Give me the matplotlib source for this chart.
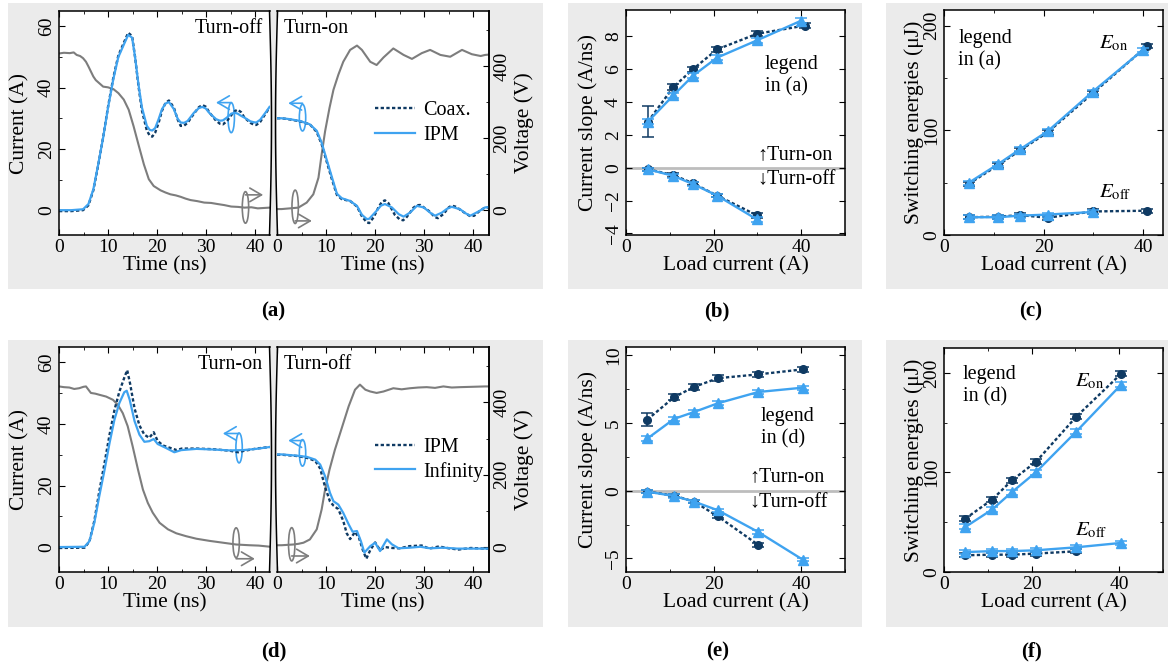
import numpy as np
import matplotlib
matplotlib.use("Agg")
import matplotlib.pyplot as plt
from matplotlib.patches import Ellipse, Rectangle
from matplotlib.lines import Line2D
from matplotlib.ticker import MultipleLocator

plt.rcParams["font.family"] = ["Liberation Serif", "DejaVu Serif"]
plt.rcParams["mathtext.fontset"] = "stix"
plt.rcParams["font.size"] = 14
plt.rcParams["axes.linewidth"] = 1.1

DARK = "#0f3a63"
LIGHT = "#3fa3f0"
GRAY = "#7d7d7d"
PANEL = "#ebebeb"

W, H = 1172, 668

# ---------------- (a) turn-off / turn-on waveforms, Coax. vs IPM ----------------
a_off_t_coax = [0, 2.5, 4.9, 6.0, 7.0, 8.0, 9.0, 10.0, 11.1, 12.1, 13.2, 14.1, 14.9, 15.5, 16.2, 16.9,
                17.9, 18.5, 19.0, 19.6, 20.3, 21.0, 21.7, 22.4, 23.4, 24.2, 24.8, 25.5, 26.2, 27.5,
                28.5, 29.2, 29.9, 30.6, 32.0, 32.8, 33.4, 34.2, 35.1, 35.8, 36.4, 37.1, 37.8, 39.0,
                39.7, 40.2, 41.0, 41.6, 42.3, 42.9]
a_off_i_coax = [-0.3, -0.3, 0.0, 1.6, 6.5, 14.8, 23.8, 33.8, 43.5, 50.5, 54.6, 57.9, 56.8, 50.0, 40.5,
                32.5, 26.0, 24.3, 24.0, 25.3, 28.5, 32.5, 35.0, 35.8, 33.5, 29.5, 27.5, 27.6, 28.5,
                31.5, 33.6, 34.3, 33.8, 32.0, 29.2, 28.2, 28.0, 29.0, 31.0, 32.3, 32.8, 32.0, 30.2,
                28.5, 27.9, 27.8, 28.8, 30.3, 32.0, 33.5]
a_off_t_ipm = [0, 2.5, 4.9, 6.0, 7.0, 8.0, 9.0, 10.0, 11.1, 12.1, 13.2, 14.1, 14.9, 15.5, 16.2, 16.9,
               17.9, 18.5, 19.0, 19.6, 20.3, 21.0, 21.7, 22.4, 23.4, 24.2, 24.8, 25.5, 26.2, 27.5,
               28.5, 29.2, 29.9, 30.6, 32.0, 32.8, 33.4, 34.2, 35.1, 35.8, 36.4, 37.1, 37.8, 39.0,
               39.7, 40.2, 41.0, 41.6, 42.3, 42.9]
a_off_i_ipm = [0.0, 0.0, 0.3, 2.0, 6.8, 15.0, 23.7, 33.5, 43.0, 50.0, 54.0, 57.2, 56.3, 50.0, 41.0,
               33.5, 27.5, 26.2, 26.0, 26.8, 29.7, 33.0, 34.8, 35.3, 33.0, 29.8, 28.6, 28.5, 29.1,
               31.8, 33.3, 33.7, 33.2, 31.8, 29.7, 29.2, 29.3, 30.2, 31.5, 31.8, 31.5, 30.8, 30.2,
               29.0, 28.7, 28.6, 29.5, 30.8, 32.3, 33.7]
a_off_t_v = [0, 1.0, 2.2, 3.0, 3.6, 4.3, 4.9, 5.5, 6.0, 6.5, 7.0, 7.5, 8.0, 9.0, 10.0, 11.1, 12.1, 13.2,
             14.2, 15.2, 16.2, 17.3, 18.3, 19.3, 20.7, 21.7, 22.7, 23.8, 24.8, 25.8, 26.8, 28.2,
             29.6, 31.0, 32.3, 33.7, 35.1, 36.5, 37.8, 39.2, 40.5, 41.7, 42.9]
a_off_v = [435, 437, 436, 438, 431, 428, 422, 412, 399, 385, 371, 361, 355, 343, 341, 336, 325, 307,
           279, 233, 182, 127, 86, 67, 55, 49, 44, 41, 37, 32, 28, 25, 21, 20, 17, 14, 10, 9, 7, 8,
           5, 6, 7]

a_on_t_coax = [0, 0.95, 2.65, 4.7, 6.7, 8.1, 9.1, 10.1, 11.2, 12.2, 13.2, 14.9, 16.3, 17.3, 18.3, 18.8,
               19.7, 20.7, 21.4, 22.0, 22.7, 24.0, 25.0, 25.7, 26.3, 27.1, 27.8, 28.5, 29.2, 30.9,
               32.2, 32.8, 33.9, 35.0, 35.6, 36.5, 37.7, 39.4, 40.2, 41.1, 42.4, 43.2]
a_on_i_coax = [30.0, 30.0, 29.6, 29.0, 28.0, 25.5, 21.5, 16.0, 10.0, 5.0, 3.6, 3.0, 1.2, -2.0, -4.0, -4.2,
               -2.3, 1.0, 2.8, 3.2, 2.3, -1.5, -3.0, -3.3, -2.5, -0.8, 0.8, 1.6, 1.7, -0.2,
               -2.3, -2.6, -1.3, 0.9, 1.5, 1.1, -0.3, -2.0, -1.8, -0.5, 0.9, 0.9]
a_on_t_ipm = [0, 0.95, 2.65, 4.7, 6.7, 8.1, 9.1, 10.1, 11.2, 12.2, 13.2, 14.9, 16.3, 17.3, 18.3, 18.8,
              20.3, 21.2, 22.0, 23.4, 24.8, 25.8, 27.1, 28.5, 29.9, 31.2, 32.2, 33.6, 34.6, 35.6,
              37.3, 38.4, 39.4, 41.1, 42.4, 43.2]
a_on_i_ipm = [30.0, 30.0, 29.7, 29.1, 28.0, 25.9, 22.0, 16.6, 10.7, 5.4, 3.9, 3.0, 1.4, -1.5, -2.9, -2.8,
              -0.2, 1.5, 2.0, 0.9, -1.3, -2.1, -0.8, 1.4, 0.9, -0.8, -1.8, -0.8, 0.4, 1.1,
              0.3, -1.0, -1.8, -0.4, 0.9, 1.0]
a_on_t_v = [0, 0.95, 2.65, 4.35, 6.05, 7.4, 8.45, 9.1, 9.8, 10.7, 11.5, 12.5, 13.5, 14.9, 16.3, 17.3,
            19.0, 20.3, 21.7, 23.7, 25.8, 27.5, 29.5, 31.2, 33.3, 35.3, 37.7, 39.7, 41.5, 42.4, 43.2]
a_on_v = [3, 3, 5, 7, 21, 44, 90, 155, 219, 284, 334, 376, 412, 445, 457, 445, 412, 403, 424, 449, 431,
          420, 436, 445, 431, 426, 445, 433, 428, 431, 432]

# ---------------- (d) turn-on / turn-off waveforms, IPM vs Infinity ----------------
d_on_t_ipm = [0, 5.2, 6.2, 7.2, 8.2, 9.3, 10.3, 11.3, 12.3, 13.3, 13.9, 14.5, 15.4, 16.4, 17.4, 18.4,
              19.3, 20.1, 21.2, 22.5, 24.0, 25.0, 28.0, 31.4, 34.8, 36.5, 37.5, 40.2, 42.9]
d_on_i_ipm = [-0.3, -0.2, 1.8, 8.5, 18.0, 27.5, 36.5, 44.5, 50.5, 55.0, 57.5, 53.0, 45.0, 39.5, 36.5, 35.5,
              37.3, 34.5, 33.0, 32.3, 31.5, 32.0, 32.0, 31.8, 31.3, 30.8, 31.2, 32.0, 32.5]
d_on_t_inf = [0, 5.2, 6.2, 7.2, 8.2, 9.3, 10.3, 11.3, 12.3, 13.3, 13.8, 14.4, 15.4, 16.4, 17.4, 18.4,
              19.3, 20.1, 21.8, 23.5, 24.9, 28.0, 31.4, 34.8, 37.5, 40.2, 42.9]
d_on_i_inf = [0.0, 0.1, 1.9, 7.9, 16.5, 25.2, 33.8, 41.4, 46.8, 50.3, 50.8, 47.9, 40.9, 36.5, 34.2, 34.4,
              35.1, 33.5, 32.2, 30.8, 31.5, 31.9, 31.7, 31.4, 31.5, 31.9, 32.5]
d_on_t_v = [0, 1.0, 2.1, 3.1, 4.1, 5.0, 5.5, 6.5, 7.4, 8.2, 9.6, 11.0, 12.0, 13.0, 14.0, 15.0, 16.1,
            17.1, 18.1, 19.1, 20.5, 22.2, 23.9, 25.9, 28.0, 30.7, 33.4, 36.1, 38.8, 40.7, 42.9]
d_on_v = [444, 442, 441, 437, 439, 443, 444, 426, 424, 421, 416, 407, 393, 370, 334, 279, 214, 159, 122,
          95, 67, 49, 38, 30, 23, 17, 12, 7, 5, 4, 1]

d_off_t_ipm = [0, 1.0, 4.0, 6.1, 7.8, 8.8, 9.8, 10.8, 11.5, 12.5, 13.5, 14.2, 14.9, 15.9, 16.7, 17.5,
               18.2, 19.0, 20.0, 21.0, 22.0, 23.5, 25.0, 27.0, 29.5, 31.0, 33.0, 35.0, 37.0, 39.5, 42.4, 43.2]
d_off_i_ipm = [30.0, 30.0, 29.6, 29.0, 28.0, 25.5, 19.5, 14.8, 13.5, 12.3, 8.5, 4.5, 2.6, 4.9, 3.0, -1.0,
               -3.8, -1.0, 1.5, -1.0, 0.0, -0.3, -0.4, 0.3, 0.5, -0.5, 0.2, -0.4, -0.8, -0.3, -0.5, -0.5]
d_off_t_inf = [0, 0.95, 4.0, 6.1, 7.8, 8.8, 9.8, 10.8, 11.5, 12.5, 13.5, 14.6, 15.4, 16.3, 17.1, 17.8,
               19.0, 20.0, 21.0, 22.4, 23.4, 24.8, 27.1, 29.2, 31.2, 33.9, 36.7, 39.4, 42.4, 43.2]
d_off_i_inf = [30.1, 30.1, 29.7, 29.3, 28.4, 26.8, 23.0, 17.6, 14.9, 13.8, 11.1, 7.4, 5.0, 5.2, 1.9, -1.8,
               0.3, 1.4, -1.3, 2.5, 0.9, -0.4, -0.2, 0.1, -0.4, -0.2, -0.5, -0.5, -0.5, -0.5]
d_off_t_v = [0, 0.95, 2.1, 3.3, 4.4, 5.4, 6.7, 8.1, 9.1, 9.8, 10.7, 11.8, 13.2, 14.6, 15.9, 16.9, 18.0,
             19.0, 20.3, 21.7, 23.7, 25.4, 27.1, 28.8, 30.5, 32.2, 33.9, 35.6, 37.3, 39.9, 42.4, 43.2]
d_off_v = [5, 5, 6, 7, 9, 12, 21, 49, 104, 159, 214, 269, 329, 389, 435, 449, 435, 430, 426, 430, 439,
           436, 439, 441, 442, 440, 444, 441, 442, 443, 444, 444]

# ---------------- (b), (c) current slope and energies, Coax. vs IPM ----------------
load_coax = [5.0, 10.8, 15.3, 20.8, 29.9, 40.8]
load_ipm = [5.0, 10.8, 15.3, 20.8, 29.9, 40.0]
slope_on_coax = [2.8, 4.9, 6.0, 7.2, 8.15, 8.65]
slope_on_coax_err = [0.93, 0.2, 0.15, 0.15, 0.15, 0.15]
slope_on_ipm = [2.8, 4.4, 5.6, 6.7, 7.75, 8.95]
slope_on_ipm_err = [0.15, 0.15, 0.15, 0.15, 0.15, 0.15]
slope_off_coax = [-0.1, -0.45, -0.95, -1.7, -2.9]
slope_off_ipm = [-0.1, -0.5, -1.0, -1.7, -3.15]
slope_off_err = [0.1, 0.1, 0.1, 0.1, 0.15]

eon_coax = [49, 66.5, 81, 98, 135.5, 180.5]
eon_ipm = [50, 67.5, 82, 99, 137, 177]
eoff_coax = [17, 17.5, 19, 16.5, 22.5, 23.2]
eoff_ipm = [17, 17, 18.5, 19.5, 22]
energy_err = [2, 2, 2, 2, 2, 2]

# ---------------- (e), (f) current slope and energies, IPM vs Infinity ----------------
load_d = [4.9, 11.0, 15.5, 21.0, 30.2, 40.4]
slope_on_ipm2 = [5.25, 6.9, 7.65, 8.3, 8.58, 8.95]
slope_on_ipm2_err = [0.45, 0.2, 0.2, 0.2, 0.2, 0.2]
slope_on_inf = [3.85, 5.3, 5.8, 6.45, 7.28, 7.6]
slope_off_ipm2 = [-0.07, -0.37, -0.8, -1.9, -4.0]
slope_off_inf = [-0.07, -0.4, -0.8, -1.45, -3.05, -5.1]

eon_ipm2 = [53.7, 72.8, 92, 110.7, 156, 199]
eon_inf = [45.3, 62.8, 80.2, 100.3, 141, 188]
eoff_ipm2 = [16.8, 17.4, 17.4, 18.5, 20.8]
eoff_inf = [20, 21, 21, 21.8, 24.8, 29.2]

I_LIM = (-8.1, 65)
V_LIM = (-69, 553)


def rect(x0, y0, x1, y1):
    return [x0 / W, 1 - y1 / H, (x1 - x0) / W, (y1 - y0) / H]


fig = plt.figure(figsize=(W / 100, H / 100), dpi=100, facecolor="white")

# light grey panels behind each sub-figure
bg = fig.add_axes([0, 0, 1, 1], zorder=-10)
bg.set_xlim(0, W)
bg.set_ylim(H, 0)
bg.axis("off")
for x0, x1 in [(8, 543), (568, 862), (886, 1168)]:
    for y0, y1 in [(3, 289), (340, 627)]:
        bg.add_patch(Rectangle((x0, y0), x1 - x0, y1 - y0, facecolor=PANEL, edgecolor="none"))


def vertical_yticks(ax):
    ax.tick_params(axis="y", which="major", labelrotation=90)
    for lab in ax.get_yticklabels():
        lab.set_va("center")


def wave_axes(box, left):
    ax = fig.add_axes(rect(*box))
    axv = ax.twinx()
    # voltage axes underneath so the grey trace sits behind the currents
    axv.set_zorder(1)
    ax.set_zorder(2)
    axv.patch.set_visible(True)
    axv.patch.set_facecolor("white")
    ax.patch.set_visible(False)
    ax.set_xlim(0, 43 if left else 43.2)
    ax.set_ylim(*I_LIM)
    axv.set_ylim(*V_LIM)
    ax.xaxis.set_major_locator(MultipleLocator(10))
    ax.xaxis.set_minor_locator(MultipleLocator(5))
    ax.yaxis.set_major_locator(MultipleLocator(20))
    ax.yaxis.set_minor_locator(MultipleLocator(10))
    axv.yaxis.set_major_locator(MultipleLocator(200))
    axv.yaxis.set_minor_locator(MultipleLocator(100))
    ax.tick_params(which="both", direction="in", top=True, right=False, pad=3)
    ax.tick_params(which="major", length=4)
    ax.tick_params(which="minor", length=2.5)
    axv.tick_params(which="both", direction="in", pad=3)
    axv.tick_params(which="major", length=4)
    axv.tick_params(which="minor", length=2.5)
    for s in axv.spines.values():
        s.set_visible(False)
    if left:
        ax.spines["right"].set_visible(False)
        axv.tick_params(axis="y", which="both", right=False, labelright=False)
        ax.set_ylabel("Current (A)", fontsize=15.5)
        ax.yaxis.set_label_coords(-0.14, 0.5)
        vertical_yticks(ax)
    else:
        ax.spines["left"].set_visible(False)
        ax.tick_params(axis="y", which="both", left=False, labelleft=False)
        axv.spines["right"].set_visible(True)
        axv.set_ylabel("Voltage (V)", fontsize=15.5)
        axv.yaxis.set_label_coords(1.12, 0.5)
        vertical_yticks(axv)
    ax.set_xlabel("Time (ns)", fontsize=15.5, labelpad=0)
    return ax, axv


def marker(ax, t, i, h, w, color, t_to, i_arrow):
    ax.add_patch(Ellipse((t, i), w, h, fill=False, edgecolor=color, lw=1.2))
    ax.annotate("", xy=(t_to, i_arrow), xytext=(t, i_arrow),
                arrowprops=dict(arrowstyle="->,head_length=0.6,head_width=0.35", color=color, lw=1.2,
                                shrinkA=0, shrinkB=0))


def break_marks(y0, y1):
    s = np.linspace(0, 1, 40)
    ys = 1 - (y0 + (y1 - y0) * s) / H
    fig.add_artist(Line2D((269.5 + 2.0 * np.sin(np.pi * s)) / W, ys, color="k", lw=1.1))
    fig.add_artist(Line2D((277.5 - 2.0 * np.sin(np.pi * s)) / W, ys, color="k", lw=1.1))


def wave_pair(y0, y1, tl_d, il_d, tl_l, il_l, tl_v, vl, tr_d, ir_d, tr_l, ir_l, tr_v, vr,
              text_l, text_r, names, marks):
    axl, axlv = wave_axes((59, y0, 270, y1), True)
    axr, axrv = wave_axes((277, y0, 489, y1), False)
    for ax, axv, td, idd, tl, il, tv, v in [(axl, axlv, tl_d, il_d, tl_l, il_l, tl_v, vl),
                                           (axr, axrv, tr_d, ir_d, tr_l, ir_l, tr_v, vr)]:
        axv.plot(tv, v, color=GRAY, lw=1.5)
        ax.plot(td, idd, color=DARK, lw=1.7, ls=(0, (1.4, 1.0)), label=names[0])
        ax.plot(tl, il, color=LIGHT, lw=1.6, label=names[1])
    axl.text(0.965, 0.965, text_l, transform=axl.transAxes, ha="right", va="top", fontsize=14.5)
    axr.text(0.03, 0.965, text_r, transform=axr.transAxes, ha="left", va="top", fontsize=14.5)
    axr.legend(loc="center left", bbox_to_anchor=(0.46, 0.5), frameon=False, fontsize=14.5,
               handlelength=2.0, handletextpad=0.4, labelspacing=0.25, borderpad=0, borderaxespad=0)
    for ax, m in zip([axl, axr], marks):
        marker(ax, *m[0], LIGHT, *m[1])
        marker(ax, *m[2], GRAY, *m[3])
    break_marks(y0, y1)


wave_pair(11, 235, a_off_t_coax, a_off_i_coax, a_off_t_ipm, a_off_i_ipm, a_off_t_v, a_off_v,
          a_on_t_coax, a_on_i_coax, a_on_t_ipm, a_on_i_ipm, a_on_t_v, a_on_v,
          "Turn-off", "Turn-on", ["Coax.", "IPM"],
          [[(35.1, 30.2, 9.8, 1.3), (32.0, 35.1), (38.0, 0.9, 10.3, 1.3), (41.6, 5.0)],
           [(5.2, 30.2, 8.7, 1.3), (2.3, 34.9), (3.7, 1.1, 10.9, 1.3), (7.1, -3.5)]])

wave_pair(347, 572, d_on_t_ipm, d_on_i_ipm, d_on_t_inf, d_on_i_inf, d_on_t_v, d_on_v,
          d_off_t_ipm, d_off_i_ipm, d_off_t_inf, d_off_i_inf, d_off_t_v, d_off_v,
          "Turn-on", "Turn-off", ["IPM", "Infinity"],
          [[(36.7, 32.2, 9.7, 1.3), (33.4, 36.9), (36.1, 1.4, 9.7, 1.3), (39.9, -3.8)],
           [(5.2, 30.6, 8.6, 1.3), (2.3, 34.6), (3.0, 0.9, 10.8, 1.3), (6.7, -2.9)]])


def scatter_axes(box, xlim, ylim, ymaj, ymin, ylabel, ylab_x):
    ax = fig.add_axes(rect(*box), facecolor="white")
    ax.set_xlim(*xlim)
    ax.set_ylim(*ylim)
    ax.xaxis.set_major_locator(MultipleLocator(20))
    ax.xaxis.set_minor_locator(MultipleLocator(10))
    ax.yaxis.set_major_locator(MultipleLocator(ymaj))
    if ymin:
        ax.yaxis.set_minor_locator(MultipleLocator(ymin))
    ax.tick_params(which="both", direction="in", top=True, right=True, pad=3)
    ax.tick_params(which="major", length=4)
    ax.tick_params(which="minor", length=2.5)
    ax.set_xlabel("Load current (A)", fontsize=15.5, labelpad=0)
    ax.set_ylabel(ylabel, fontsize=15.5)
    ax.yaxis.set_label_coords(ylab_x, 0.5)
    vertical_yticks(ax)
    return ax


def series(ax, x, y, err, dark):
    if dark:
        ax.errorbar(x, y, yerr=err, color=DARK, lw=1.7, ls=(0, (1.4, 1.0)), marker="o", ms=5.5,
                    capsize=4, elinewidth=1.1, capthick=1.1, zorder=3)
    else:
        ax.errorbar(x, y, yerr=err, color=LIGHT, lw=1.7, marker="^", ms=6.5,
                    capsize=4, elinewidth=1.1, capthick=1.1, zorder=4)


def slope_text(ax, xf, y_on, y_off):
    ax.text(xf, y_on, "\u2191Turn-on", transform=ax.transAxes, ha="left", va="center", fontsize=14.5)
    ax.text(xf, y_off, "\u2193Turn-off", transform=ax.transAxes, ha="left", va="center", fontsize=14.5)


# (b)
axb = scatter_axes((626, 10, 845, 235), (0, 50), (-4.1, 9.6), 2, None, "Current slope (A/ns)", -0.13)
axb.axhline(0, color="#bdbdbd", lw=2, zorder=1)
series(axb, load_coax, slope_on_coax, slope_on_coax_err, True)
series(axb, load_ipm, slope_on_ipm, slope_on_ipm_err, False)
series(axb, load_coax[:5], slope_off_coax, slope_off_err, True)
series(axb, load_ipm[:5], slope_off_ipm, slope_off_err, False)
axb.text(0.635, 0.8, "legend\nin (a)", transform=axb.transAxes, ha="left", va="top", fontsize=14.5,
         linespacing=1.25)
slope_text(axb, 0.6, 0.356, 0.244)

# (c)
axc = scatter_axes((944, 10, 1163, 235), (0, 44), (0, 215), 100, 50, "Switching energies (\u03bcJ)", -0.09)
series(axc, load_coax, eon_coax, energy_err, True)
series(axc, load_ipm, eon_ipm, energy_err, False)
series(axc, load_coax, eoff_coax, energy_err, True)
series(axc, load_ipm[:5], eoff_ipm, energy_err[:5], False)
axc.text(0.065, 0.915, "legend\nin (a)", transform=axc.transAxes, ha="left", va="top", fontsize=14.5,
         linespacing=1.25)
axc.text(0.71, 0.853, r"$E_\mathrm{on}$", transform=axc.transAxes, ha="left", va="center", fontsize=15)
axc.text(0.71, 0.19, r"$E_\mathrm{off}$", transform=axc.transAxes, ha="left", va="center", fontsize=15)

# (e)
axe = scatter_axes((626, 347, 845, 572), (0, 50), (-6, 10.6), 5, 2.5, "Current slope (A/ns)", -0.13)
axe.axhline(0, color="#bdbdbd", lw=2, zorder=1)
series(axe, load_d, slope_on_ipm2, slope_on_ipm2_err, True)
series(axe, load_d, slope_on_inf, [0.15] * 6, False)
series(axe, load_d[:5], slope_off_ipm2, [0.12] * 5, True)
series(axe, load_d, slope_off_inf, [0.12] * 6, False)
axe.text(0.615, 0.735, "legend\nin (d)", transform=axe.transAxes, ha="left", va="top", fontsize=14.5,
         linespacing=1.25)
slope_text(axe, 0.565, 0.424, 0.308)

# (f)
axf = scatter_axes((944, 348, 1163, 572), (0, 50), (0, 225), 100, 50, "Switching energies (\u03bcJ)", -0.09)
series(axf, load_d, eon_ipm2, [2.5] * 6, True)
series(axf, load_d, eon_inf, [2.5] * 6, False)
series(axf, load_d[:5], eoff_ipm2, [2] * 5, True)
series(axf, load_d, eoff_inf, [2] * 6, False)
axf.text(0.085, 0.925, "legend\nin (d)", transform=axf.transAxes, ha="left", va="top", fontsize=14.5,
         linespacing=1.25)
axf.text(0.598, 0.85, r"$E_\mathrm{on}$", transform=axf.transAxes, ha="left", va="center", fontsize=15)
axf.text(0.598, 0.187, r"$E_\mathrm{off}$", transform=axf.transAxes, ha="left", va="center", fontsize=15)

# captions
for lab, x, y in [("(a)", 273, 311), ("(b)", 717, 311), ("(c)", 1031, 311),
                  ("(d)", 274, 651), ("(e)", 718, 651), ("(f)", 1032, 651)]:
    fig.text(x / W, 1 - y / H, lab, ha="center", va="center", fontsize=15, weight="bold")

fig.savefig("out.png", dpi=100)
